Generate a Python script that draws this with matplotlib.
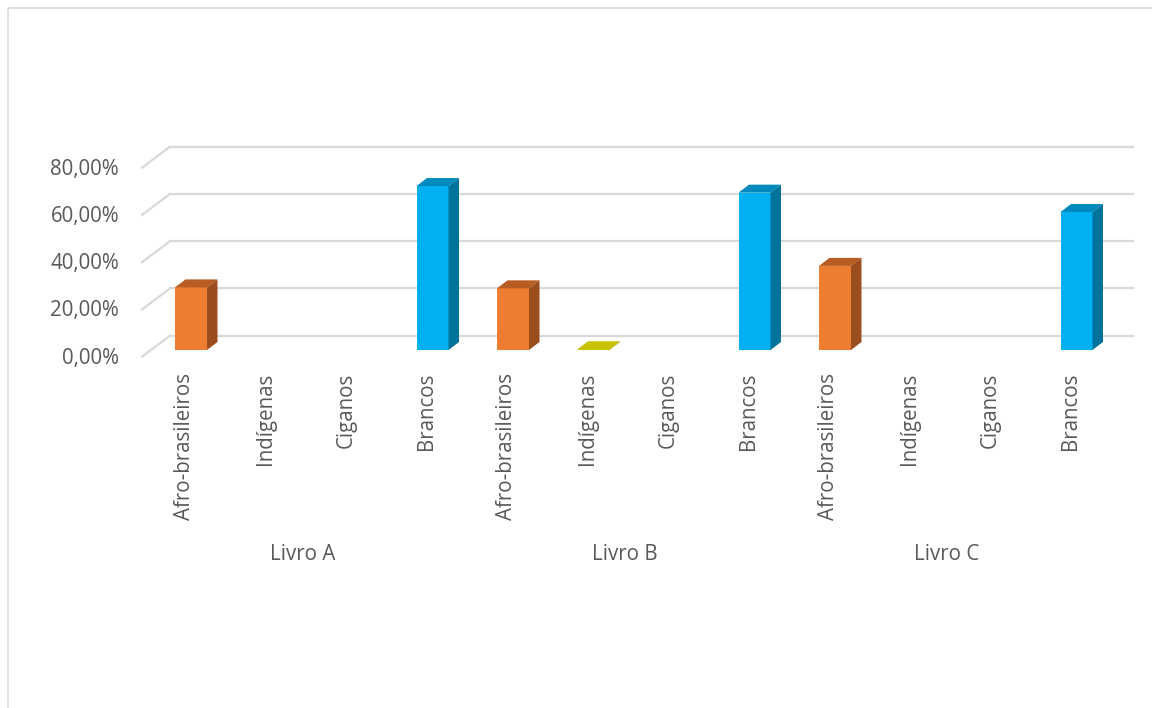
import matplotlib

matplotlib.use('agg')
import matplotlib.pyplot as plt
from matplotlib.patches import Polygon

livros = ['Livro A', 'Livro B', 'Livro C']
grupos = ['Afro-brasileiros', 'Indígenas', 'Ciganos', 'Brancos']
# percentage per group, None = no bar drawn
livro_a = [26.5, None, None, 69.4]
livro_b = [26.1, 0.3, None, 66.6]
livro_c = [35.6, None, None, 58.4]
y_ticks = [0, 20, 40, 60, 80]

# front, top, side colours per group
cores = {
    'Afro-brasileiros': ('#ED7D31', '#B75C23', '#9A4E1E'),
    'Indígenas': ('#C9C400', '#C6C200', '#A19E00'),
    'Ciganos': ('#A5A5A5', '#7F7F7F', '#6A6A6A'),
    'Brancos': ('#00B0F0', '#0089BC', '#00739D'),
}

GRID = '#D9D9D9'
TXT = '#595959'
FONT = 'Open Sans'
FS = 14.8

# pixel geometry of the original picture
W, H = 1152, 708
X0_PX, STEP_PX = 191, 80.5      # first bar centre, spacing between categories
BASE_PX, PCT_PX = 350, 2.3625   # baseline of bar fronts, px per 1%


def dx(px):
    return px / STEP_PX


def dy(px):
    return px / PCT_PX


fig = plt.figure(figsize=(W / 100, H / 100), dpi=100)
ax = fig.add_axes([0, 0, 1, 1])
ax.set_xlim(-X0_PX / STEP_PX, (W - X0_PX) / STEP_PX)
ax.set_ylim(-(H - BASE_PX) / PCT_PX, BASE_PX / PCT_PX)
ax.axis('off')

# outer chart border (cropped at right/bottom)
bx, by = dx(7.5 - X0_PX), dy(BASE_PX - 8)
ax.plot([bx, bx], [by, -200], color=GRID, lw=1.2, solid_capstyle='butt')
ax.plot([bx, 20], [by, by], color=GRID, lw=1.2, solid_capstyle='butt')

# wall offsets relative to the plane of the bar fronts
back_x, back_y = dx(19), dy(14.3)
front_x, front_y = dx(-9), dy(-6.7)
grid_left = dx(170 - X0_PX)
grid_right = dx(1133 - X0_PX)

for v in y_ticks:
    ax.plot([grid_left, grid_right], [v + back_y, v + back_y], color=GRID, lw=1.6, zorder=1)
    ax.plot([grid_left - (back_x - front_x), grid_left], [v + front_y, v + back_y],
            color=GRID, lw=1.6, zorder=1)
    ax.text(dx(119 - X0_PX), v + front_y - dy(1.5), f'{v:.2f}%'.replace('.', ','),
            ha='right', va='center', color=TXT, fontsize=FS, family=FONT)

# bars
bw = dx(32)
ddx, ddy = dx(10.5), dy(8)
valores = [livro_a, livro_b, livro_c]
for j, serie in enumerate(valores):
    for k, v in enumerate(serie):
        i = j * len(grupos) + k
        ax.text(i + front_x + dx(3), dy(-23), grupos[k], rotation=90, ha='center', va='top',
                color=TXT, fontsize=FS, family=FONT)
        if v is None:
            continue
        fc, tc, sc = cores[grupos[k]]
        ax.bar(i, v, width=bw, color=fc, edgecolor='none', zorder=3)
        l, r = i - bw / 2, i + bw / 2
        ax.add_patch(Polygon([(l, v), (r, v), (r + ddx, v + ddy), (l + ddx, v + ddy)],
                             closed=True, facecolor=tc, edgecolor='none', zorder=3))
        ax.add_patch(Polygon([(r, 0), (r + ddx, ddy), (r + ddx, v + ddy), (r, v)],
                             closed=True, facecolor=sc, edgecolor='none', zorder=3))
    centre = j * len(grupos) + (len(grupos) - 1) / 2
    ax.text(centre + front_x, dy(-205), livros[j], ha='center', va='center',
            color=TXT, fontsize=FS, family=FONT)

fig.savefig('out.png', dpi=100, facecolor='white')
